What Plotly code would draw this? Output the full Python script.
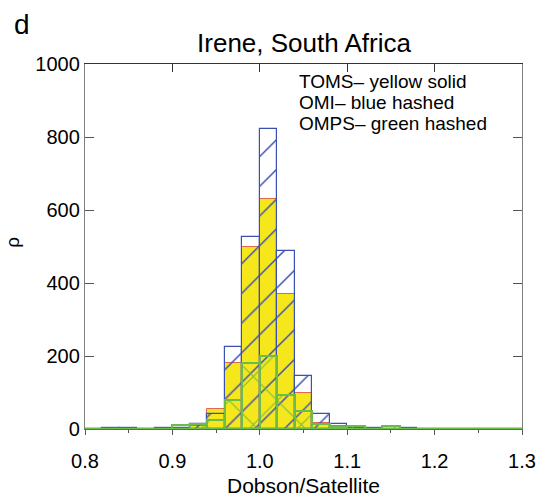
import plotly.graph_objects as go

# ---- data (histogram counts per 0.02-wide bin, 0.80 .. 1.30) ----
bin_start = 0.80
bin_width = 0.02
n_bins = 25
bin_centers = [round(bin_start + bin_width * (i + 0.5), 3) for i in range(n_bins)]

toms = [0, 0, 0, 0, 0, 2, 8, 54, 182, 500, 630, 370, 100, 17, 8, 2, 0, 0, 0, 0, 0, 0, 0, 0, 0]
omi = [0, 3, 3, 0, 3, 3, 14, 42, 226, 527, 822, 487, 144, 42, 15, 4, 2, 0, 3, 0, 0, 0, 0, 0, 0]
omps = [0, 0, 0, 1, 0, 10, 14, 24, 79, 182, 201, 92, 50, 15, 5, 8, 0, 7, 0, 0, 0, 0, 0, 0, 0]

x_range = [0.8, 1.3]
y_range = [0, 1000]
x_ticks = [0.8, 0.9, 1.0, 1.1, 1.2, 1.3]
y_ticks = [0, 200, 400, 600, 800, 1000]

title = "Irene, South Africa"
legend_lines = ["TOMS\u2013 yellow solid", "OMI\u2013 blue hashed", "OMPS\u2013 green hashed"]

FONT = "Liberation Sans, Arial, Helvetica, sans-serif"
YELLOW = "#f6e71c"
RED = "#e0684e"
BLUE = "#3a50b2"
GREEN = "#6abd46"

# plot area geometry (pixels)
W, H = 548, 497
ML, MR, MT, MB = 85, 21, 64, 68
PW, PH = W - ML - MR, H - MT - MB


def px(xp):
    return (xp - ML) / PW


def py(yp):
    return (H - MB - yp) / PH


fig = go.Figure()

fig.add_trace(go.Bar(
    x=bin_centers, y=toms, width=bin_width,
    marker=dict(color=YELLOW, line=dict(color=RED, width=1)),
    name="TOMS",
))
fig.add_trace(go.Bar(
    x=bin_centers, y=omi, width=bin_width,
    marker=dict(color=BLUE, line=dict(color=BLUE, width=1.2),
                pattern=dict(shape="/", fgcolor=BLUE, bgcolor="rgba(0,0,0,0)",
                             fillmode="replace", fgopacity=1,
                             size=21, solidity=0.07)),
    name="OMI",
))
fig.add_trace(go.Bar(
    x=bin_centers, y=omps, width=bin_width,
    marker=dict(color=GREEN, line=dict(color=GREEN, width=2),
                pattern=dict(shape="x", fgcolor=GREEN, bgcolor="rgba(0,0,0,0)",
                             fillmode="replace", fgopacity=1,
                             size=34, solidity=0.06)),
    name="OMPS",
))
# OMPS zero-count bins draw as a green baseline across the whole range
fig.add_trace(go.Scatter(
    x=x_range, y=[0, 0], mode="lines", xaxis="x2",
    line=dict(color=GREEN, width=2.5), cliponaxis=False, hoverinfo="skip",
))

fig.update_layout(
    width=W, height=H,
    margin=dict(l=ML, r=MR, t=MT, b=MB),
    paper_bgcolor="white", plot_bgcolor="white",
    barmode="overlay", bargap=0,
    showlegend=False,
    font=dict(family=FONT, color="black", size=19),
    title=dict(text=title, x=304 / W, xref="container", xanchor="center",
               y=1 - 42.8 / H, yref="container", yanchor="middle",
               font=dict(size=26, family=FONT, color="black")),
    xaxis=dict(range=x_range, tickvals=x_ticks, tickformat=".1f",
               showline=True, linecolor="#666", linewidth=1,
               ticks="outside", ticklen=5, tickcolor="#555", tickwidth=1,
               minor=dict(dtick=0.05, ticks="outside", ticklen=3, tickcolor="#555"),
               showgrid=False, zeroline=False, mirror=False,
               ticklabelstandoff=9,
               tickfont=dict(size=20)),
    xaxis2=dict(range=x_range, overlaying="x", side="top", anchor="y",
                tickvals=[0.9, 1.0, 1.1, 1.2], showticklabels=False,
                showline=True, linecolor="#333", linewidth=1,
                ticks="inside", ticklen=8, tickcolor="#333",
                showgrid=False, zeroline=False),
    yaxis=dict(range=y_range, tickvals=y_ticks,
               showline=True, linecolor="#808080", linewidth=1.3,
               ticks="inside", ticklen=9, tickcolor="#555",
               mirror="ticks", showgrid=False, zeroline=False,
               tickfont=dict(size=20)),
)

annotations = [
    dict(text="d", x=px(21), y=py(24), xref="paper", yref="paper",
         xanchor="center", yanchor="middle", showarrow=False,
         font=dict(size=28, family=FONT, color="black")),
    dict(text="\u03c1", x=px(11), y=py(242), xref="paper", yref="paper",
         xanchor="center", yanchor="middle", showarrow=False, textangle=-90,
         font=dict(size=19, family=FONT, color="black")),
    dict(text="Dobson/Satellite", x=px(306), y=py(485.7), xref="paper", yref="paper",
         xanchor="center", yanchor="middle", showarrow=False,
         font=dict(size=21, family=FONT, color="black")),
]
for i, (line, yc) in enumerate(zip(legend_lines, [81.0, 102.0, 123.0])):
    annotations.append(dict(text=line, x=px(300), y=py(yc), xref="paper", yref="paper",
                            xanchor="left", yanchor="middle", showarrow=False,
                            borderpad=0,
                            font=dict(size=19, family=FONT, color="black")))
fig.update_layout(annotations=annotations)

fig.write_html("out.html")
